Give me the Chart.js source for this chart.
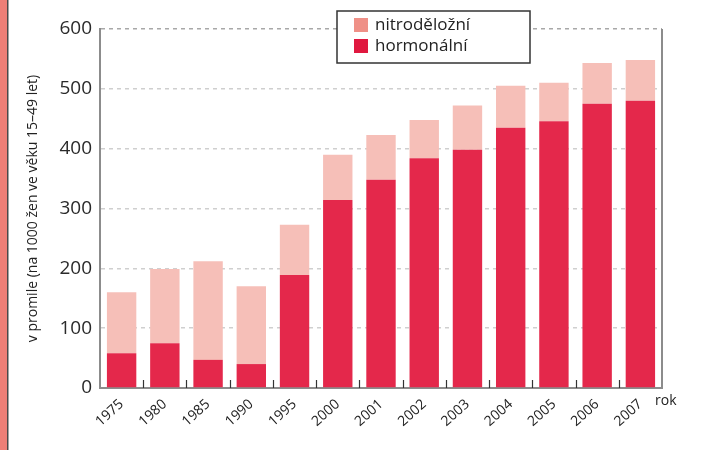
<!DOCTYPE html>
<html>
<head>
<meta charset="utf-8">
<script src="https://cdn.jsdelivr.net/npm/chart.js@4.4.1/dist/chart.umd.min.js"></script>
<style>
    html, body { margin: 0; padding: 0; background: #fff; }
    #wrap { position: relative; width: 704px; height: 450px; }
</style>
</head>
<body>
<div id="wrap"><canvas id="contraChart" width="704" height="450"></canvas></div>
<script>
// data
const years = ['1975', '1980', '1985', '1990', '1995', '2000', '2001', '2002', '2003', '2004', '2005', '2006', '2007'];
const hormonal = [58, 75, 47, 40, 189, 314, 348, 384, 398, 435, 446, 475, 480];
const totals = [160, 199, 212, 170, 273, 390, 423, 448, 472, 505, 510, 543, 548];
const nitro = totals.map((t, i) => t - hormonal[i]);
const yTicks = [0, 100, 200, 300, 400, 500, 600];

const FONT = '"Open Sans", "Noto Sans", sans-serif';

// vlastni kresleni: pruh vlevo, prava hrana, zoubky na ose x, legenda a "rok"
const decorPlugin = {
    id: 'decor',
    beforeDraw(chart) {
        const ctx = chart.ctx;
        ctx.save();
        ctx.fillStyle = '#EE7F77';
        ctx.fillRect(0, 0, 7, chart.height);
        ctx.fillStyle = '#4a4a4a';
        ctx.fillRect(7, 0, 1.5, chart.height);
        ctx.restore();
    },
    afterDraw(chart) {
        const ctx = chart.ctx;
        const area = chart.chartArea;
        const x = chart.scales.x;
        ctx.save();

        // prava hrana
        ctx.strokeStyle = '#8c8c8c';
        ctx.lineWidth = 2;
        ctx.beginPath();
        ctx.moveTo(area.right, area.top);
        ctx.lineTo(area.right, area.bottom);
        ctx.stroke();

        // zoubky mezi kategoriemi
        ctx.strokeStyle = '#333';
        ctx.lineWidth = 1.2;
        for (let i = 1; i < years.length; i++) {
            const px = Math.round((x.getPixelForValue(i - 1) + x.getPixelForValue(i)) / 2) + 0.5;
            ctx.beginPath();
            ctx.moveTo(px, area.bottom);
            ctx.lineTo(px, area.bottom - 8);
            ctx.stroke();
        }

        // "rok"
        ctx.fillStyle = '#222';
        ctx.font = '14px ' + FONT;
        ctx.textAlign = 'left';
        ctx.textBaseline = 'middle';
        ctx.fillText('rok', area.right - 7, area.bottom + 13);

        // legenda
        const lx = 337, ly = 11, lw = 193, lh = 52;
        ctx.fillStyle = '#fff';
        ctx.fillRect(lx, ly, lw, lh);
        ctx.strokeStyle = '#333';
        ctx.lineWidth = 1.5;
        ctx.strokeRect(lx, ly, lw, lh);

        const items = [
            { label: chart.data.datasets[1].label, color: '#EF9087' },
            { label: chart.data.datasets[0].label, color: '#E0183F' }
        ];
        ctx.font = '17px ' + FONT;
        items.forEach((item, i) => {
            const cy = ly + 14 + i * 21;
            ctx.fillStyle = item.color;
            ctx.fillRect(lx + 17, cy - 7, 14, 14);
            ctx.fillStyle = '#222';
            ctx.fillText(item.label, lx + 38, cy);
        });
        ctx.restore();
    }
};

const ctx = document.getElementById('contraChart').getContext('2d');
const chart = new Chart(ctx, {
    type: 'bar',
    data: {
        labels: years,
        datasets: [
            {
                label: 'hormonální',
                data: hormonal,
                backgroundColor: '#E4284B',
                categoryPercentage: 1,
                barPercentage: 0.68
            },
            {
                label: 'nitroděložní',
                data: nitro,
                backgroundColor: '#F6BFB8',
                categoryPercentage: 1,
                barPercentage: 0.68
            }
        ]
    },
    options: {
        responsive: false,
        animation: false,
        layout: {
            padding: { top: 29, right: 42, left: 0, bottom: 0 }
        },
        plugins: {
            legend: { display: false },
            tooltip: { enabled: false }
        },
        scales: {
            x: {
                stacked: true,
                afterFit(scale) { scale.height = 62; },
                grid: { display: false },
                border: { display: true, color: '#8c8c8c', width: 2 },
                ticks: {
                    color: '#222',
                    font: { family: FONT, size: 14 },
                    minRotation: 42,
                    maxRotation: 42,
                    padding: 0
                }
            },
            y: {
                stacked: true,
                min: 0,
                max: 600,
                afterFit(scale) { scale.width = 100; },
                afterBuildTicks(scale) {
                    scale.ticks = yTicks.map(v => ({ value: v }));
                },
                grid: {
                    color: (c) => c.tick && c.tick.value === 600 ? '#a8a8a8' : '#cfcfcf',
                    lineWidth: 1.5,
                    drawTicks: false
                },
                border: { display: true, color: '#8c8c8c', width: 2, dash: [4, 4] },
                ticks: {
                    color: '#2a2a2a',
                    font: { family: FONT, size: 19 },
                    padding: 8
                },
                title: {
                    display: true,
                    text: 'v promile (na 1000 žen ve věku 15–49 let)',
                    color: '#222',
                    font: { family: FONT, size: 14 },
                    padding: { top: 25, bottom: 0 }
                }
            }
        }
    },
    plugins: [decorPlugin]
});
</script>
</body>
</html>
